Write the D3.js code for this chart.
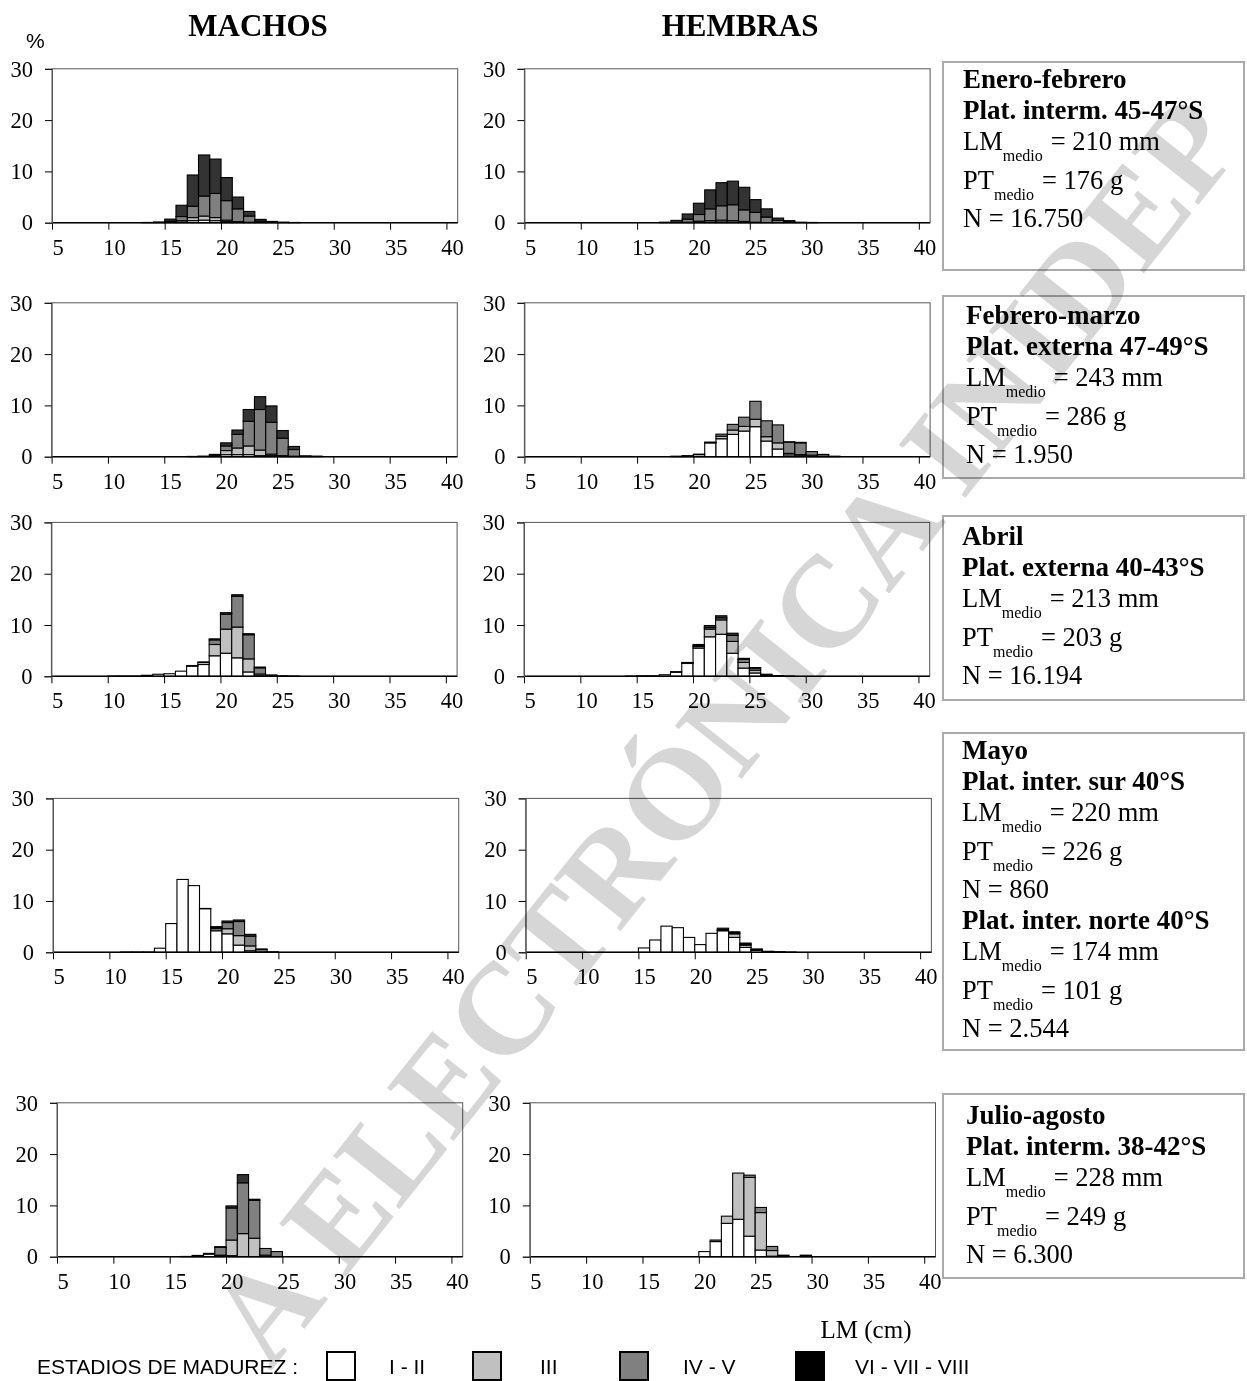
<!DOCTYPE html>
<html>
<head>
<meta charset="utf-8">
<script src="https://cdn.jsdelivr.net/npm/d3@7/dist/d3.min.js"></script>
<style>
  body { margin: 0; background: #fff; }
  svg { display: block; }
</style>
</head>
<body>
<script>
// length classes (cm), each bar spans [k, k+1)
const lmClasses = [10, 11, 12, 13, 14, 15, 16, 17, 18, 19, 20, 21, 22, 23, 24, 25, 26, 27, 28, 29, 30, 31, 32];
const stageKeys = ["I-II", "III", "IV-V", "VI-VIII"];
const stageNames = ["I - II", "III", "IV - V", "VI - VII - VIII"];
const xTicks = [5, 10, 15, 20, 25, 30, 35, 40];
const yTicks = [0, 10, 20, 30];

// Enero-febrero
const m1_I   = [0,0,0,0,0,0,.1,.4,.5,.4,.2,0,0,0,0,0,0,0,0,0,0,0,0];
const m1_III = [0,0,0,.05,.15,.1,.3,.6,.8,.6,.3,.2,.1,0,0,0,0,0,0,0,0,0,0];
const m1_IV  = [0,0,0,0,0,.2,.8,2.2,3.9,4.7,3.8,2.5,1.2,.3,.1,.05,0,0,0,0,0,0,0];
const m1_VI  = [0,0,0,0,0,.4,2.2,6.1,8.0,6.7,4.5,2.3,.9,.35,.15,.05,.05,0,0,0,0,0,0];
const h1_I   = [0,0,0,0,0,0,0,0,0,0,.1,.1,.15,.1,.05,0,0,0,0,0,0,0,0];
const h1_III = [0,0,0,0,0,0,0,0,0,.1,.2,.3,.35,.3,.2,.1,0,0,0,0,0,0,0];
const h1_IV  = [0,0,0,0,0,0,0,0,0,.6,1.3,2.3,2.8,3.1,2.25,1.9,1.1,.45,.15,0,0,0,0];
const h1_VI  = [0,0,0,0,0,0,0,.1,.45,1.0,2.2,3.7,4.5,4.6,4.4,2.5,1.6,.45,.25,.1,.05,0,0];

// Febrero-marzo
const m2_I   = [0,0,0,0,0,0,0,0,0,0,.4,.4,.4,.2,.2,0,0,0,0,0,0,0,0];
const m2_III = [0,0,0,0,0,0,0,0,0,.1,.8,1.3,1.7,1.1,.3,.2,.1,0,0,0,0,0,0];
const m2_IV  = [0,0,0,0,0,0,0,0,.05,.25,.9,2.65,4.8,7.9,6.2,3.4,1.3,.1,.05,0,0,0,0];
const m2_VI  = [0,0,0,0,0,0,0,.05,.05,.1,.6,.85,2.3,2.5,3.2,1.5,.6,.05,.05,0,0,0,0];
const h2_I   = [0,0,0,0,0,0,0,0,.1,.15,.4,2.7,3.5,4.35,5.0,5.85,3.05,1.5,.35,.3,.3,0,0];
const h2_III = [0,0,0,0,0,0,0,0,0,.05,.1,.05,.5,.85,.9,1.45,.85,1.2,.3,.1,0,0,0];
const h2_IV  = [0,0,0,0,0,0,0,0,0,0,0,.1,.4,1.1,1.8,3.5,3.1,3.5,2.2,2.3,.7,.4,.1];
const h2_VI  = [0,0,0,0,0,0,0,0,0,0,0,0,0,0,0,0,0,0,.05,.1,0,.05,0];

// Abril
const m3_I   = [.05,.05,.05,.2,.4,.5,1.0,2.0,2.3,4.0,4.5,3.6,.85,.1,0,0,0,0,0,0,0,0,0];
const m3_III = [0,0,0,0,0,0,0,0,.4,2.2,4.7,6.0,2.55,.35,.05,0,0,0,0,0,0,0,0];
const m3_IV  = [0,0,0,0,0,0,0,.05,.1,.9,2.9,6.0,4.7,1.2,.15,.1,.05,0,0,0,0,0,0];
const m3_VI  = [0,0,0,0,0,0,0,.05,0,.2,.3,.3,.2,.15,.05,0,0,0,0,0,0,0,0];
const h3_I   = [0,0,0,0,.05,.1,.1,.3,.8,2.5,5.5,7.7,8.2,4.5,1.6,.65,.1,0,0,0,0,0,0];
const h3_III = [0,0,0,0,0,0,0,0,0,.05,.3,1.5,2.8,2.3,1.1,.55,.1,0,0,0,0,0,0];
const h3_IV  = [0,0,0,0,0,0,0,0,0,.05,.2,.3,.4,1.2,.6,.4,.15,.1,.05,0,0,0,0];
const h3_VI  = [0,0,0,0,0,0,0,0,.1,.1,.2,.4,.4,.4,.2,.1,.05,.05,0,0,0,0,0];

// Mayo
const m4_I   = [0,.05,.05,.05,.8,5.6,14.2,13.0,8.5,4.2,3.6,1.4,.3,0,0,0,0,0,0,0,0,0,0];
const m4_III = [0,0,0,0,0,0,0,0,0,.4,1.0,1.85,.95,.05,0,0,0,0,0,0,0,0,0];
const m4_IV  = [0,0,0,0,0,0,0,0,0,.2,1.2,2.75,1.9,.5,.1,0,0,0,0,0,0,0,0];
const m4_VI  = [0,0,0,0,0,0,0,0,.05,.2,.3,.3,.35,.1,0,0,0,0,0,0,0,0,0];
const h4_I   = [0,0,0,0,0,.85,2.4,5.1,4.8,2.9,1.5,3.7,4.2,2.9,.95,.4,.1,.05,.05,0,0,0,0];
const h4_III = [0,0,0,0,0,0,0,0,0,0,0,0,.1,.7,.45,.05,0,0,0,0,0,0,0];
const h4_IV  = [0,0,0,0,0,0,0,0,0,0,0,0,.1,.2,.2,.1,.05,.05,0,0,0,0,0];
const h4_VI  = [0,0,0,0,0,0,0,0,0,0,0,0,.3,.2,.2,.1,.05,0,0,0,0,0,0];

// Julio-agosto
const m5_I   = [0,0,0,0,0,0,0,.15,.5,.1,.2,0,0,0,0,0,0,0,0,0,0,0,0];
const m5_III = [0,0,0,0,0,0,.05,.1,.15,.2,3.05,4.5,3.6,.3,0,0,0,0,0,0,0,0,0];
const m5_IV  = [0,0,0,0,0,0,0,0,0,1.55,6.25,9.9,7.4,1.3,1.0,0,0,0,0,0,0,0,0];
const m5_VI  = [0,0,0,0,0,0,0,0,0,.1,.4,1.6,.2,0,0,0,0,0,0,0,0,0,0];
const h5_I   = [0,0,0,0,0,0,0,0,0,0,1.0,2.95,6.5,7.3,4.0,1.3,.1,0,0,0,0,0,0];
const h5_III = [0,0,0,0,0,0,0,0,0,0,0,0,1.4,9.0,11.45,7.3,1.1,.1,0,.1,0,0,0];
const h5_IV  = [0,0,0,0,0,0,0,0,0,0,0,.3,0,0,.45,1.0,.8,.2,0,.2,0,0,0];
const h5_VI  = [0,0,0,0,0,0,0,0,0,0,0,0,0,0,0,0,0,0,0,0,0,0,0];

// info boxes
const boxTitles = ["Enero-febrero", "Febrero-marzo", "Abril", "Mayo", "Julio-agosto"];
const zoneNames = [["Plat. interm. 45-47°S"], ["Plat. externa 47-49°S"], ["Plat. externa 40-43°S"],
                   ["Plat. inter. sur 40°S", "Plat. inter. norte 40°S"], ["Plat. interm. 38-42°S"]];
const lmMedio = [["210"], ["243"], ["213"], ["220", "174"], ["228"]];
const ptMedio = [["176"], ["286"], ["203"], ["226", "101"], ["249"]];
const nTotal  = [["16.750"], ["1.950"], ["16.194"], ["860", "2.544"], ["6.300"]];

const width = 1247;
const height = 1381;
const fills = ["#ffffff", "#c0c0c0", "#808080", "#333333"];
const legendFills = ["#ffffff", "#c0c0c0", "#808080", "#000000"];
const serif = "'Liberation Serif','Times New Roman',serif";
const sans = "'Liberation Sans',Arial,sans-serif";

const svg = d3.select("body").append("svg")
    .attr("width", width)
    .attr("height", height)
    .style("background-color", "white");

function makeRows(stages) {
    return lmClasses.map((k, i) => {
        const row = { lm: k };
        stageKeys.forEach((key, j) => row[key] = stages[j][i]);
        return row;
    });
}

// panel placement: left edge of the "5" tick, baseline of 0
const panels = [
    { x0: 52,    base: 222.7,  s: [m1_I, m1_III, m1_IV, m1_VI] },
    { x0: 524.4, base: 222.7,  s: [h1_I, h1_III, h1_IV, h1_VI] },
    { x0: 51.6,  base: 456.7,  s: [m2_I, m2_III, m2_IV, m2_VI] },
    { x0: 524.4, base: 456.7,  s: [h2_I, h2_III, h2_IV, h2_VI] },
    { x0: 51.4,  base: 676.3,  s: [m3_I, m3_III, m3_IV, m3_VI] },
    { x0: 524,   base: 676.3,  s: [h3_I, h3_III, h3_IV, h3_VI] },
    { x0: 53,    base: 952.3,  s: [m4_I, m4_III, m4_IV, m4_VI] },
    { x0: 525.7, base: 952.3,  s: [h4_I, h4_III, h4_IV, h4_VI] },
    { x0: 57,    base: 1256.7, s: [m5_I, m5_III, m5_IV, m5_VI] },
    { x0: 529.8, base: 1256.7, s: [h5_I, h5_III, h5_IV, h5_VI] }
];
const plotW = 405.7;
const plotH = 153.9;

const stack = d3.stack().keys(stageKeys);

panels.forEach(p => {
    const x = d3.scaleLinear().domain([5, 41]).range([p.x0, p.x0 + plotW]);
    const y = d3.scaleLinear().domain([0, 30]).range([p.base, p.base - plotH]);
    const g = svg.append("g");

    // frame
    g.append("rect")
        .attr("x", x(5)).attr("y", y(30))
        .attr("width", x(41) - x(5)).attr("height", y(0) - y(30))
        .attr("fill", "none").attr("stroke", "#555").attr("stroke-width", 1);

    const series = stack(makeRows(p.s));
    series.forEach((layer, li) => {
        g.append("g").selectAll("rect")
            .data(layer.filter(d => d[1] - d[0] > 0))
            .join("rect")
            .attr("x", d => x(d.data.lm))
            .attr("width", d => x(d.data.lm + 1) - x(d.data.lm))
            .attr("y", d => y(d[1]))
            .attr("height", d => y(d[0]) - y(d[1]))
            .attr("fill", fills[li])
            .attr("stroke", "#000")
            .attr("stroke-width", 1.1);
    });

    // labels sit in the middle of the class that starts at the tick
    const half = (x(6) - x(5)) / 2;
    const xAxis = g.append("g")
        .attr("transform", `translate(0,${p.base})`)
        .call(d3.axisBottom(x).tickValues(xTicks).tickSize(7).tickPadding(9).tickFormat(d3.format("d")));
    xAxis.select(".domain").attr("stroke", "#000").attr("stroke-width", 1.5).attr("d", `M${x(5)},0H${x(41)}`);
    xAxis.selectAll("text").attr("x", half)
        .style("font-family", serif).style("font-size", "22.5px").attr("fill", "#000");
    xAxis.selectAll(".tick line").attr("stroke", "#000");

    const yAxis = g.append("g")
        .attr("transform", `translate(${p.x0},0)`)
        .call(d3.axisLeft(y).tickValues(yTicks).tickSize(7).tickPadding(12));
    yAxis.select(".domain").attr("stroke", "#555");
    yAxis.selectAll("text").style("font-family", serif).style("font-size", "22.5px").attr("fill", "#000");
    yAxis.selectAll(".tick line").attr("stroke", "#000");
});

// column headers
svg.append("text").attr("x", 258).attr("y", 36).attr("text-anchor", "middle")
    .style("font-family", serif).style("font-size", "31px").style("font-weight", "bold").text("MACHOS");
svg.append("text").attr("x", 740).attr("y", 36).attr("text-anchor", "middle")
    .style("font-family", serif).style("font-size", "31px").style("font-weight", "bold").text("HEMBRAS");
svg.append("text").attr("x", 26).attr("y", 48)
    .style("font-family", sans).style("font-size", "21px").text("%");

// info boxes
const boxes = [
    { x: 943, y: 62,   w: 301, h: 208, tx: 963, ty: 88 },
    { x: 943, y: 296,  w: 301, h: 182, tx: 966, ty: 324 },
    { x: 943, y: 516,  w: 301, h: 184, tx: 962, ty: 545 },
    { x: 943, y: 733,  w: 301, h: 317, tx: 962, ty: 759 },
    { x: 943, y: 1094, w: 301, h: 184, tx: 966, ty: 1124 }
];
boxes.forEach((b, i) => {
    svg.append("rect").attr("x", b.x).attr("y", b.y).attr("width", b.w).attr("height", b.h)
        .attr("fill", "none").attr("stroke", "#aaa").attr("stroke-width", 2);
    const lines = [{ t: boxTitles[i], bold: true, step: 30.5 }];
    zoneNames[i].forEach((z, j) => {
        lines.push({ t: z, bold: true, step: 31 });
        lines.push({ sub: "LM", val: `= ${lmMedio[i][j]} mm`, step: 39 });
        lines.push({ sub: "PT", val: `= ${ptMedio[i][j]} g`, step: 38.5 });
        lines.push({ t: `N = ${nTotal[i][j]}`, step: 30.5 });
    });
    let yy = b.ty;
    lines.forEach(ln => {
        const t = svg.append("text").attr("x", b.tx).attr("y", yy)
            .style("font-family", serif).style("font-size", "26.5px");
        if (ln.bold) t.style("font-weight", "bold").style("font-size", "27px").text(ln.t);
        else if (ln.sub) {
            t.append("tspan").text(ln.sub);
            t.append("tspan").attr("dy", 11).style("font-size", "16px").text("medio");
            t.append("tspan").attr("dy", -11).attr("dx", 8).text(ln.val);
        } else t.text(ln.t);
        yy += ln.step;
    });
});

// x title
svg.append("text").attr("x", 866).attr("y", 1338).attr("text-anchor", "middle")
    .style("font-family", serif).style("font-size", "25px").text("LM (cm)");

// legend
const legend = svg.append("g").style("font-family", sans).style("font-size", "21px");
legend.append("text").attr("x", 37).attr("y", 1374).text("ESTADIOS DE MADUREZ :");
const legendBoxX = [327, 473, 620, 796];
const legendTextX = [389, 540, 683, 855];
stageNames.forEach((name, i) => {
    legend.append("rect").attr("x", legendBoxX[i]).attr("y", 1352).attr("width", 28).attr("height", 28)
        .attr("fill", legendFills[i]).attr("stroke", "#000").attr("stroke-width", 2);
    legend.append("text").attr("x", legendTextX[i]).attr("y", 1374).text(name);
});

// watermark (only the part visible in the page)
svg.append("text")
    .attr("transform", "translate(1246,145) rotate(-51.5)")
    .attr("text-anchor", "end")
    .style("font-family", serif).style("font-size", "130px").style("font-weight", "bold")
    .style("fill", "#d6d6d6").style("mix-blend-mode", "multiply")
    .text("A ELECTRÓNICA INIDEP");
</script>
</body>
</html>
